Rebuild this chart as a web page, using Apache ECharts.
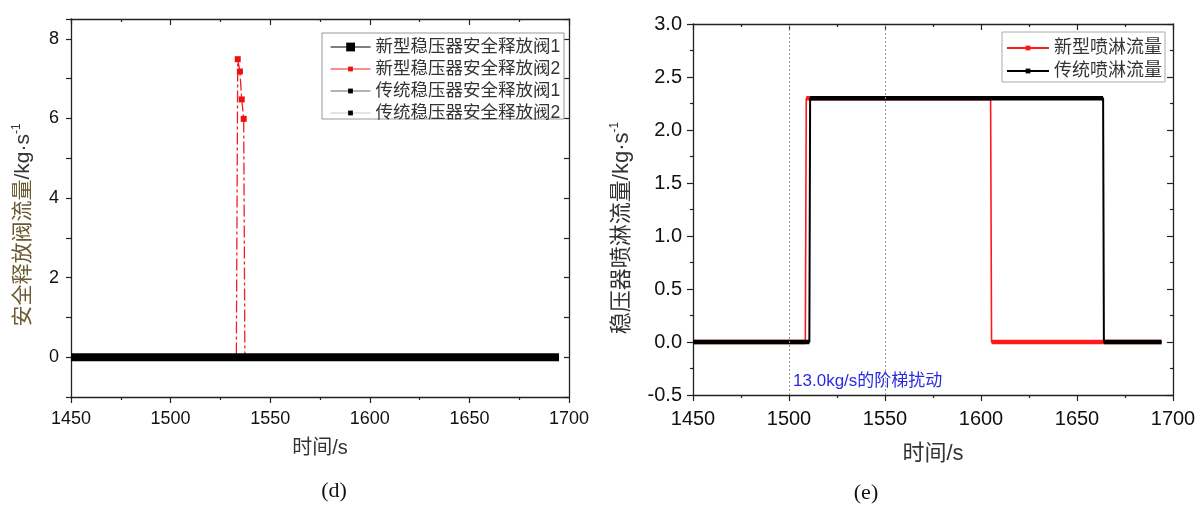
<!DOCTYPE html>
<html><head><meta charset="utf-8">
<script src="https://cdn.jsdelivr.net/npm/echarts@6/dist/echarts.min.js"></script>
<style>html,body{margin:0;padding:0;background:#fff}#c{width:1200px;height:505px}</style>
</head><body><div id="c"></div>
<script>
// ---------------- data ----------------
const leftNames = ['新型稳压器安全释放阀1', '新型稳压器安全释放阀2', '传统稳压器安全释放阀1', '传统稳压器安全释放阀2'];
const leftYLabels = [0, 2, 4, 6, 8];
const newPRV1Time = [1450, 1695];
const newPRV1Flow = [0, 0];
const newPRV2Time = [1450, 1533.0, 1533.7, 1534.8, 1535.7, 1536.7, 1537.3, 1695];
const newPRV2Flow = [0, 0, 7.49, 7.18, 6.48, 5.99, 0, 0];
const convPRV1Time = [1450, 1695];
const convPRV1Flow = [0, 0];
const convPRV2Time = [1450, 1695];
const convPRV2Flow = [0, 0];

const rightNames = ['新型喷淋流量', '传统喷淋流量'];
const newSprayTime = [1450, 1508.5, 1509.0, 1605.0, 1605.5, 1694];
const newSprayFlow = [0, 0, 2.3, 2.3, 0, 0];
const convSprayTime = [1450, 1510.6, 1511.0, 1663.6, 1664.0, 1694];
const convSprayFlow = [0, 0, 2.3, 2.3, 0, 0];
const guideTimes = [1500, 1550];
const noteText = '13.0kg/s的阶梯扰动';
const notePoint = [1500, -0.37];

// ---------------- helpers ----------------
const FONT = "'Liberation Sans', 'Noto Sans CJK SC', sans-serif";
const AX = '#222';
function pairs(t, v) { return t.map((x, i) => [x, v[i]]); }
// horizontal runs (dense-marker band look), broken between steps
function runs(t, v) {
  const out = [];
  for (let i = 0; i < t.length - 1; i++) {
    if (v[i] === v[i + 1]) {
      const last = out[out.length - 1];
      if (!last || last[0] !== t[i] || last[1] !== v[i]) {
        if (out.length) out.push(['-', '-']);
        out.push([t[i], v[i]]);
      }
      out.push([t[i + 1], v[i + 1]]);
    }
  }
  return out;
}
function xAxisPair(grid, fs, nameFs, gap, margin) {
  const base = {
    type: 'value', gridIndex: grid, min: 1450, max: 1700, interval: 50,
    splitLine: { show: false },
    axisLine: { show: true, onZero: false, lineStyle: { color: AX, width: 1.3 } },
    minorTick: { show: true, splitNumber: 2, length: 3, lineStyle: { color: AX, width: 1.2 } }
  };
  return [
    Object.assign({}, base, {
      position: 'bottom',
      axisTick: { show: true, inside: false, length: 6, lineStyle: { color: AX, width: 1.2 } },
      axisLabel: { fontSize: fs, color: '#111', margin: margin, fontFamily: FONT, formatter: v => String(v) },
      name: '时间/s', nameLocation: 'middle', nameGap: gap,
      nameTextStyle: { fontSize: nameFs, color: '#333', fontFamily: FONT }
    }),
    Object.assign({}, base, {
      position: 'top',
      axisTick: { show: true, inside: true, length: 6, lineStyle: { color: AX, width: 1.2 } },
      axisLabel: { show: false }
    })
  ];
}

const chart = echarts.init(document.getElementById('c'), null, { renderer: 'canvas' });

const leftYBase = {
  type: 'value', gridIndex: 0, min: -1, max: 8.5, interval: 1,
  splitLine: { show: false },
  axisLine: { show: true, onZero: false, lineStyle: { color: AX, width: 1.3 } }
};
const rightYBase = {
  type: 'value', gridIndex: 1, min: -0.5, max: 3, interval: 0.5,
  splitLine: { show: false },
  axisLine: { show: true, onZero: false, lineStyle: { color: AX, width: 1.3 } },
  minorTick: { show: true, splitNumber: 2, length: 3, lineStyle: { color: AX, width: 1.2 } }
};

const option = {
  animation: false,
  backgroundColor: '#fff',
  title: [
    { text: '(d)', left: 334, top: 480, textAlign: 'center', padding: 0,
      textStyle: { fontFamily: "'Liberation Serif', serif", fontSize: 22, fontWeight: 'normal', color: '#111' } },
    { text: '(e)', left: 866, top: 482, textAlign: 'center', padding: 0,
      textStyle: { fontFamily: "'Liberation Serif', serif", fontSize: 22, fontWeight: 'normal', color: '#111' } }
  ],
  grid: [
    { left: 71, top: 19, width: 498, height: 378 },
    { left: 693, top: 24, width: 480, height: 371 }
  ],
  graphic: [
    { type: 'rect', z: 1, shape: { x: 322, y: 33, width: 242, height: 86 },
      style: { fill: '#fff', stroke: '#999', lineWidth: 1 } }
  ],
  legend: [
    { data: [{ name: leftNames[0], lineStyle: { color: '#000', width: 1.2, type: 'solid' }, itemStyle: { color: '#000' } }],
      orient: 'vertical', left: 330, top: 38, padding: 0, itemWidth: 40, itemHeight: 11, z: 5,
      textStyle: { fontSize: 17.5, color: '#333', fontFamily: FONT, lineHeight: 18 } },
    { data: [
        { name: leftNames[1], lineStyle: { color: '#f02020', width: 1, type: 'solid' }, itemStyle: { color: '#ee1010' } },
        { name: leftNames[2], lineStyle: { color: '#666', width: 1, type: 'solid' }, itemStyle: { color: '#000' } },
        { name: leftNames[3], lineStyle: { color: '#c8c8c8', width: 1, type: 'solid' }, itemStyle: { color: '#000' } }
      ],
      orient: 'vertical', left: 330, top: 60, padding: 0, itemGap: 4, itemWidth: 40, itemHeight: 6, z: 5,
      textStyle: { fontSize: 17.5, color: '#333', fontFamily: FONT, lineHeight: 18 } },
    { data: [
        { name: rightNames[0], lineStyle: { color: '#ff1a1a', width: 2 }, itemStyle: { color: '#ff1a1a' } },
        { name: rightNames[1], lineStyle: { color: '#000', width: 2 }, itemStyle: { color: '#000' } }
      ],
      orient: 'vertical', left: 1002, top: 32, padding: [7, 3, 2, 4], itemGap: 5, itemWidth: 42, itemHeight: 6,
      borderColor: '#aaa', borderWidth: 1, backgroundColor: '#fff', borderRadius: 0,
      textStyle: { fontSize: 18, color: '#333', fontFamily: FONT, lineHeight: 18 } }
  ],
  xAxis: [].concat(xAxisPair(0, 18, 20, 41, 13), xAxisPair(1, 20, 22, 48, 14)),
  yAxis: [
    Object.assign({}, leftYBase, {
      position: 'left',
      axisTick: { show: true, inside: false, length: 5, lineStyle: { color: AX, width: 1.2 } },
      axisLabel: { fontSize: 18, color: '#111', margin: 12, fontFamily: FONT,
        customValues: leftYLabels,
        formatter: v => (leftYLabels.indexOf(v) >= 0 ? String(v) : '') },
      name: '{a|安全释放阀流量}{b|/kg·s}{c|-1}', nameLocation: 'middle', nameRotate: 90, nameGap: 36,
      nameTextStyle: { padding: [0, 34, 0, 0],
        rich: {
          a: { fontSize: 21, color: '#6b5a33', fontFamily: FONT, lineHeight: 24 },
          b: { fontSize: 21, color: '#333', fontFamily: FONT, lineHeight: 24 },
          c: { fontSize: 12, color: '#333', fontFamily: FONT, lineHeight: 12, verticalAlign: 'top' }
        } }
    }),
    Object.assign({}, leftYBase, {
      position: 'right',
      axisTick: { show: true, inside: true, length: 5, lineStyle: { color: AX, width: 1.2 } },
      axisLabel: { show: false }
    }),
    Object.assign({}, rightYBase, {
      position: 'left',
      axisTick: { show: true, inside: false, length: 6, lineStyle: { color: AX, width: 1.2 } },
      axisLabel: { fontSize: 20, color: '#111', margin: 11, fontFamily: FONT, formatter: v => v.toFixed(1) },
      name: '{a|稳压器喷淋流量/kg·s}{c|-1}', nameLocation: 'middle', nameRotate: 90, nameGap: 58,
      nameTextStyle: { padding: [0, 37, 0, 0],
        rich: {
          a: { fontSize: 22, color: '#333', fontFamily: FONT, lineHeight: 26 },
          c: { fontSize: 12, color: '#333', fontFamily: FONT, lineHeight: 12, verticalAlign: 'top' }
        } }
    }),
    Object.assign({}, rightYBase, {
      position: 'right',
      axisTick: { show: true, inside: true, length: 6, lineStyle: { color: AX, width: 1.2 } },
      axisLabel: { show: false }
    })
  ],
  series: [
    // ---- left chart ----
    { name: leftNames[3], type: 'line', xAxisIndex: 0, yAxisIndex: 0, data: pairs(convPRV2Time, convPRV2Flow),
      symbol: 'rect', showSymbol: false, lineStyle: { color: '#c8c8c8', width: 1 }, itemStyle: { color: '#000' } },
    { name: leftNames[2], type: 'line', xAxisIndex: 0, yAxisIndex: 0, data: pairs(convPRV1Time, convPRV1Flow),
      symbol: 'rect', showSymbol: false, lineStyle: { color: '#666', width: 1 }, itemStyle: { color: '#000' } },
    { name: leftNames[1], type: 'line', xAxisIndex: 0, yAxisIndex: 0, data: pairs(newPRV2Time, newPRV2Flow),
      symbol: 'rect', symbolSize: v => (v[1] > 0 ? 6 : 0), showSymbol: true,
      lineStyle: { color: '#f02020', width: 1.3, type: [12, 3, 3, 3] }, itemStyle: { color: '#ee1010' } },
    { name: leftNames[0], type: 'line', xAxisIndex: 0, yAxisIndex: 0, data: pairs(newPRV1Time, newPRV1Flow),
      symbol: 'rect', showSymbol: false, lineStyle: { color: '#000', width: 8, cap: 'butt' }, itemStyle: { color: '#000' } },
    // ---- right chart ----
    { name: rightNames[0], type: 'line', xAxisIndex: 2, yAxisIndex: 2, data: pairs(newSprayTime, newSprayFlow),
      symbol: 'rect', showSymbol: false, lineStyle: { color: '#ff1a1a', width: 1.6 }, itemStyle: { color: '#ff1a1a' },
      markLine: { silent: true, symbol: 'none', label: { show: false },
        lineStyle: { color: '#999', width: 1, type: [2, 2] },
        data: guideTimes.map(t => ({ xAxis: t })) },
      markPoint: { silent: true, symbol: 'circle', symbolSize: 0.1,
        data: [{ coord: notePoint, value: noteText }],
        label: { show: true, position: 'right', distance: 4, formatter: noteText,
          color: '#2a2ae6', fontSize: 17, fontFamily: FONT } } },
    { name: 'newSprayBand', type: 'line', xAxisIndex: 2, yAxisIndex: 2, data: runs(newSprayTime, newSprayFlow),
      symbol: 'none', connectNulls: false, lineStyle: { color: '#ff1a1a', width: 4.5, cap: 'butt' } },
    { name: rightNames[1], type: 'line', xAxisIndex: 2, yAxisIndex: 2, data: pairs(convSprayTime, convSprayFlow),
      symbol: 'rect', showSymbol: false, lineStyle: { color: '#000', width: 2 }, itemStyle: { color: '#000' } },
    { name: 'convSprayBand', type: 'line', xAxisIndex: 2, yAxisIndex: 2, data: runs(convSprayTime, convSprayFlow),
      symbol: 'none', connectNulls: false, lineStyle: { color: '#000', width: 4.5, cap: 'butt' } }
  ]
};
chart.setOption(option);
</script>
</body></html>
